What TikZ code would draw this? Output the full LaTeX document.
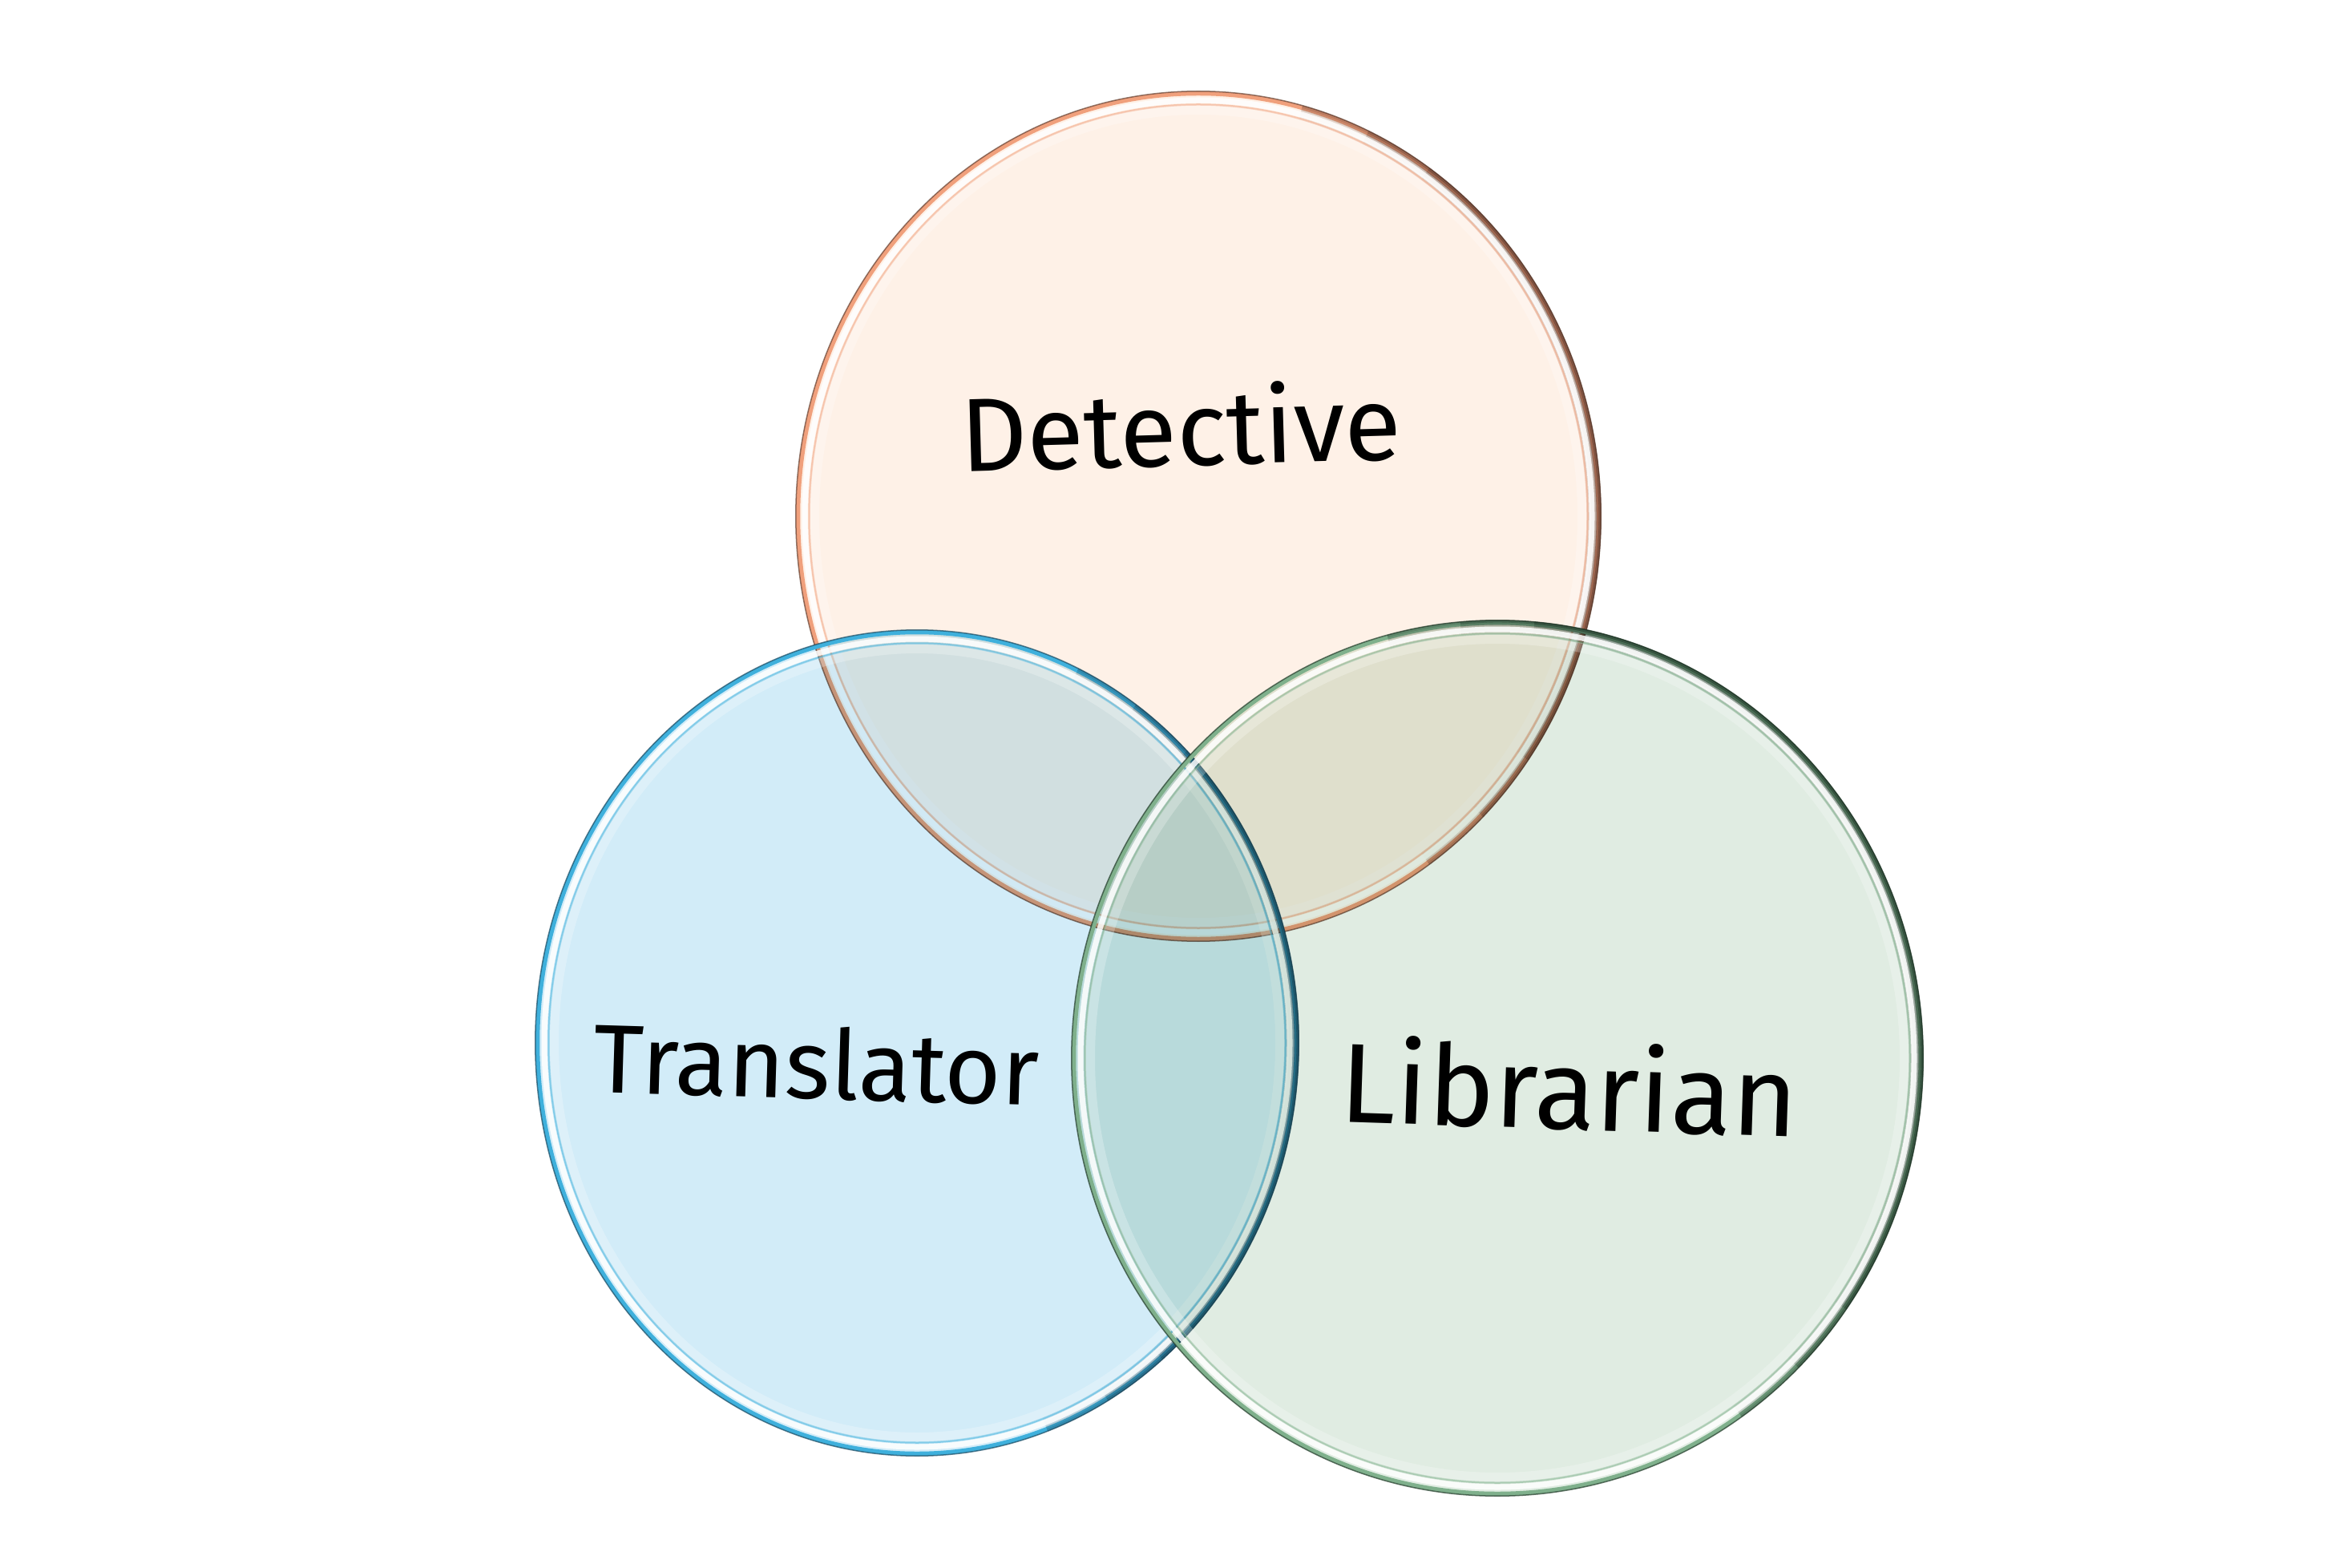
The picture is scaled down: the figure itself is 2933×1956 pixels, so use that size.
\documentclass[tikz,border=0pt]{standalone}
\usepackage{fontspec}
\setmainfont{Fira Sans}
\definecolor{detFill}{HTML}{FEF1E7}
\definecolor{detRim}{HTML}{F0A07C}
\definecolor{detDark}{HTML}{4A2E24}
\definecolor{traFill}{HTML}{D2ECF8}
\definecolor{traRim}{HTML}{3FB0DC}
\definecolor{traDark}{HTML}{16384A}
\definecolor{libFill}{HTML}{E0ECE2}
\definecolor{libRim}{HTML}{7FB08C}
\definecolor{libDark}{HTML}{15281C}
\newcommand\glassdisc[8]{%
  % #1 centre, #2 rx, #3 ry, #4 fill, #5 rim, #6 dark, #7 shadow start, #8 shadow end
  \fill[#4, blend mode=multiply] (#1) ellipse[x radius=#2, y radius=#3];
  \draw[#5, line width=0.55mm] (#1) ellipse[x radius=#2-3.5, y radius=#3-3.5];
  \draw[#6, line width=0.15mm, opacity=0.6] (#1) ellipse[x radius=#2-0.8, y radius=#3-0.8];
  \foreach \s in {0,10,20}{%
    \foreach \d/\o in {2/0.3,5/0.2,8/0.14,11/0.09,14/0.06,17/0.04}{%
      \pgfmathsetmacro\rxx{#2-\d}%
      \pgfmathsetmacro\ryy{#3-\d}%
      \pgfmathsetmacro\sa{#7+\s}%
      \pgfmathsetmacro\ea{#8-\s}%
      \draw[#6, line width=0.32mm, opacity=\o] (#1) ++(\sa:{\rxx} and {\ryy})
        arc[start angle=\sa, end angle=\ea, x radius=\rxx, y radius=\ryy];}}
  \draw[white, line width=0.7mm, opacity=0.85] (#1) ellipse[x radius=#2-12, y radius=#3-12];
  \draw[#5, line width=0.25mm, opacity=0.55] (#1) ellipse[x radius=#2-17.5, y radius=#3-17.5];
  \draw[white, line width=1.2mm, opacity=0.25] (#1) ellipse[x radius=#2-24, y radius=#3-24];
}
\tikzset{
  lbl/.style={font=\fontsize{37pt}{40pt}\selectfont, text=black, inner sep=0pt}
}
\begin{document}
\begin{tikzpicture}[x=0.1mm,y=-0.1mm]
\useasboundingbox (0,0) rectangle (2933,1956);
\fill[white] (0,0) rectangle (2933,1956);
\coordinate (det) at (1495,644);
\coordinate (tra) at (1144,1301);
\coordinate (lib) at (1868,1320);
\glassdisc{det}{503}{531}{detFill}{detRim}{detDark}{-75}{55}
\glassdisc{tra}{477}{516}{traFill}{traRim}{traDark}{-65}{70}
\glassdisc{lib}{532}{547}{libFill}{libRim}{libDark}{-105}{55}
\node[lbl, rotate=1.6] (tdet) at (1473,531) {Detective};
\node[lbl, rotate=-1.7, font=\fontsize{34.5pt}{38pt}\selectfont] (ttra) at (1019,1326) {Translator};
\node[lbl, rotate=-1.9, font=\fontsize{40pt}{43pt}\selectfont] (tlib) at (1958,1355) {Librarian};
\end{tikzpicture}
\end{document}
